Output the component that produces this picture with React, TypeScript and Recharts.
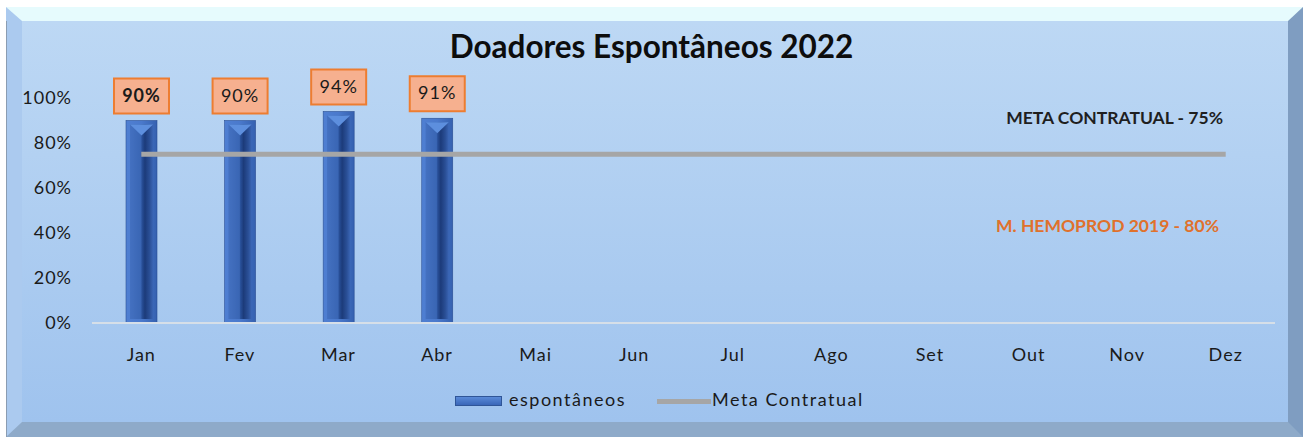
import React from 'react';
import {
  ComposedChart,
  Bar,
  Line,
  XAxis,
  YAxis,
  Legend,
  LabelList,
} from 'recharts';

const months = ['Jan', 'Fev', 'Mar', 'Abr', 'Mai', 'Jun', 'Jul', 'Ago', 'Set', 'Out', 'Nov', 'Dez'];
const espontaneos = [0.9, 0.9, 0.94, 0.91, null, null, null, null, null, null, null, null];
const metaContratual = [0.75, 0.75, 0.75, 0.75, 0.75, 0.75, 0.75, 0.75, 0.75, 0.75, 0.75, 0.75];
const yTicks = [0, 0.2, 0.4, 0.6, 0.8, 1];

const data = months.map((month, i) => ({
  month,
  espontaneos: espontaneos[i],
  meta: metaContratual[i],
}));

const FONT = 'Lato, "Open Sans", sans-serif';

const pct = (v: number) => `${Math.round(v * 100)}%`;

// bevelled column like the Excel 3-D bar style
const BevelBar = (props: any) => {
  const { x, y, width, height } = props;
  if (!height || height <= 0) return null;
  const b = 4;
  return (
    <g>
      <rect x={x} y={y} width={width} height={height} fill="url(#barOuter)" stroke="#2b4f93" strokeWidth={0.6} />
      <rect x={x + b} y={y + b} width={width - 2 * b} height={height - 2 * b} fill="url(#barInner)" />
      <polygon
        points={`${x + b},${y + b} ${x + width - b},${y + b} ${x + width / 2},${y + 15}`}
        fill="#5d8fde"
      />
      <polygon
        points={`${x + b},${y + b} ${x + width / 2},${y + 15} ${x + width / 2},${y + height - b} ${x + b},${y + height - b}`}
        fill="rgba(90,140,220,0.25)"
      />
    </g>
  );
};

const BoxLabel = (props: any) => {
  const { x, y, width, value, index } = props;
  if (value == null) return null;
  const w = 55;
  const h = 35;
  const cx = x + width / 2;
  const top = y - 7 - h;
  return (
    <g>
      <rect x={cx - w / 2} y={top} width={w} height={h} fill="#f6b08f" stroke="#ed7d31" strokeWidth={2} />
      <text
        x={cx}
        y={top + h / 2 + 1}
        textAnchor="middle"
        dominantBaseline="middle"
        fontFamily={FONT}
        fontSize={18}
        letterSpacing={1}
        fontWeight={index === 0 ? 700 : 400}
        fill="#1a1a1a"
      >
        {pct(value)}
      </text>
    </g>
  );
};

const LegendContent = () => (
  <div style={{ position: 'relative', height: 26, fontFamily: FONT, fontSize: 18, letterSpacing: 1.5, color: '#1a1a1a' }}>
    <div style={{ position: 'absolute', left: 455, top: 8, width: 47, height: 10, background: 'linear-gradient(#5a8ad8, #3a66b8)', border: '1px solid #2f5597', boxSizing: 'border-box' }} />
    <span style={{ position: 'absolute', left: 509, top: 0 }}>espontâneos</span>
    <div style={{ position: 'absolute', left: 657, top: 11, width: 54, height: 5, background: '#a6a6a6' }} />
    <span style={{ position: 'absolute', left: 712, top: 0 }}>Meta Contratual</span>
  </div>
);

const tickStyle = { fill: '#1a1a1a', fontSize: 18, fontFamily: FONT, letterSpacing: 1 };

const App: React.FC = () => {
  return (
    <div style={{ position: 'absolute', left: 0, top: 0, width: 1303, height: 437, background: '#fff', overflow: 'hidden' }}>
      <div
        style={{
          position: 'absolute',
          left: 6,
          top: 7,
          width: 1297,
          height: 430,
          boxSizing: 'border-box',
          borderTop: '14px solid #e6fbfd',
          borderLeft: '16px solid #abcaef',
          borderRight: '15px solid #7f9dc1',
          borderBottom: '15px solid #8eaac9',
          background: 'linear-gradient(#bdd8f4, #9fc3ee)',
        }}
      />
      <div style={{ position: 'absolute', left: 6, top: 21, width: 1, height: 416, background: '#8b9db2' }} />
      <div
        style={{
          position: 'absolute',
          left: 0,
          top: 27,
          width: 1303,
          textAlign: 'center',
          fontFamily: FONT,
          fontWeight: 700,
          fontSize: 31.5,
          color: '#0d0d0d',
        }}
      >
        Doadores Espontâneos 2022
      </div>
      <div style={{ position: 'absolute', right: 1303 - 1223, top: 107, fontFamily: FONT, fontWeight: 700, fontSize: 17.5, color: '#1f1f1f' }}>
        META CONTRATUAL - 75%
      </div>
      <div style={{ position: 'absolute', right: 1303 - 1219, top: 215, fontFamily: FONT, fontWeight: 700, fontSize: 17.5, color: '#e0712c' }}>
        M. HEMOPROD 2019 - 80%
      </div>
      <div style={{ position: 'absolute', left: 0, top: 0 }}>
        <ComposedChart
          width={1303}
          height={437}
          data={data}
          margin={{ top: 98, right: 28, left: 0, bottom: 74 }}
          barCategoryGap={0}
        >
          <defs>
            <linearGradient id="barOuter" x1="0" y1="0" x2="1" y2="0">
              <stop offset="0%" stopColor="#4f7fd2" />
              <stop offset="50%" stopColor="#4a79cc" />
              <stop offset="100%" stopColor="#3561b0" />
            </linearGradient>
            <linearGradient id="barInner" x1="0" y1="0" x2="1" y2="0">
              <stop offset="0%" stopColor="#3c68b8" />
              <stop offset="45%" stopColor="#2f5aa8" />
              <stop offset="65%" stopColor="#1c3b7a" />
              <stop offset="85%" stopColor="#2a4f96" />
              <stop offset="100%" stopColor="#3a65b4" />
            </linearGradient>
          </defs>
          <XAxis
            dataKey="month"
            tickLine={false}
            axisLine={{ stroke: '#d6dfe8', strokeWidth: 2 }}
            tick={tickStyle}
            tickMargin={19}
            height={40}
            interval={0}
          />
          <YAxis
            domain={[0, 1]}
            ticks={yTicks}
            interval={0}
            tickFormatter={pct}
            tickLine={false}
            axisLine={false}
            width={92}
            tickMargin={14}
            tick={tickStyle}
          />
          <Legend
            layout="horizontal"
            verticalAlign="middle"
            align="center"
            wrapperStyle={{ left: 0, top: 388, width: 1303 }}
            content={LegendContent}
          />
          <Bar
            name="espontâneos"
            dataKey="espontaneos"
            barSize={31}
            shape={BevelBar}
            isAnimationActive={false}
          >
            <LabelList dataKey="espontaneos" content={BoxLabel} />
          </Bar>
          <Line
            name="Meta Contratual"
            dataKey="meta"
            stroke="#a6a6a6"
            strokeWidth={5}
            dot={false}
            activeDot={false}
            isAnimationActive={false}
          />
        </ComposedChart>
      </div>
    </div>
  );
};

export default App;
